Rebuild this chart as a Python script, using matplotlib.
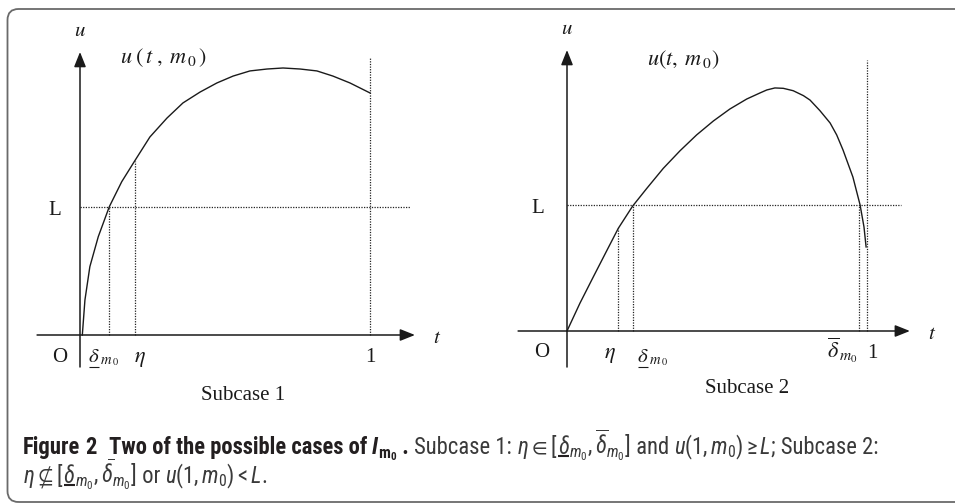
import matplotlib
matplotlib.use("Agg")
import matplotlib.pyplot as plt
from matplotlib import font_manager
from matplotlib.patches import FancyBboxPatch, Rectangle
from matplotlib.lines import Line2D
from matplotlib.transforms import IdentityTransform

W, H = 955, 504

# Subcase 1: curve u(t, m0), L taken as 1
t1 = [0.008, 0.017, 0.034, 0.063, 0.101, 0.144, 0.187, 0.241, 0.300, 0.355,
      0.414, 0.472, 0.528, 0.586, 0.645, 0.700, 0.759, 0.817, 0.872, 0.931, 1.0]
u1 = [0.0, 0.273, 0.534, 0.768, 1.002, 1.198, 1.354, 1.547, 1.695, 1.813,
      1.898, 1.969, 2.023, 2.063, 2.078, 2.086, 2.078, 2.063, 2.023, 1.969, 1.891]
L1 = 1.0
delta1 = 0.10
eta1, eta1_u = 0.19, 1.36
one1_top = 2.164

# Subcase 2
t2 = [0.0, 0.043, 0.088, 0.132, 0.171, 0.219, 0.266, 0.321, 0.377, 0.432,
      0.488, 0.543, 0.599, 0.643, 0.666, 0.693, 0.721, 0.754, 0.788, 0.81,
      0.843, 0.877, 0.899, 0.92, 0.953, 0.977, 0.99, 0.997]
u2 = [0.0, 0.220, 0.431, 0.635, 0.815, 0.992, 1.132, 1.291, 1.431, 1.556,
      1.667, 1.762, 1.841, 1.889, 1.913, 1.929, 1.926, 1.907, 1.868, 1.833,
      1.749, 1.651, 1.556, 1.437, 1.222, 1.0, 0.825, 0.667]
L2 = 1.0
eta2, eta2_u = 0.171, 0.815
delta2, deltabar2 = 0.22, 0.973
one2_top = 2.15


def pick_caption_font():
    ents = font_manager.fontManager.ttflist
    for want in ["Liberation Sans Narrow", "Roboto Condensed", "Open Sans Condensed",
                 "Noto Sans Condensed", "DejaVu Sans Condensed"]:
        if any(f.name == want for f in ents):
            return want, "normal"
    for fam in ["Noto Sans", "Open Sans", "DejaVu Sans", "Roboto"]:
        if any(f.name == fam and f.stretch == "condensed" for f in ents):
            return fam, "condensed"
    return "Roboto", "normal"


CAP, CAP_STRETCH = pick_caption_font()
tail = "" if CAP_STRETCH == "normal" else ":stretch=" + CAP_STRETCH
plt.rcParams["mathtext.rm"] = CAP + tail
plt.rcParams["mathtext.it"] = CAP + tail + ":style=italic"
plt.rcParams["mathtext.bf"] = CAP + tail + ":weight=bold"
plt.rcParams["mathtext.fallback"] = "stixsans"

fig = plt.figure(figsize=(W / 100, H / 100), dpi=100)
renderer = fig.canvas.get_renderer()

ink = "#1a1a1a"
serif = dict(family="Liberation Serif", math_fontfamily="stix", color=ink)
dots = dict(color="#222222", lw=0.9, ls=(0, (1, 1.1)))


def panel(x0, y0, sx, sy):
    # one transparent axes over the whole figure, origin at pixel (x0, y0)
    ax = fig.add_axes([0, 0, 1, 1])
    ax.set_xlim(-x0 / sx, (W - x0) / sx)
    ax.set_ylim((y0 - H) / sy, y0 / sy)
    ax.axis("off")
    return ax


def axis_arrow(ax, start, tip):
    ax.annotate("", xy=tip, xytext=start,
                arrowprops=dict(arrowstyle="-|>,head_length=0.9,head_width=0.36",
                                mutation_scale=10, lw=1.1, color=ink,
                                shrinkA=0, shrinkB=0))


def label(ax, s, xy, off, ha="center", va="baseline", size=15):
    ax.annotate(s, xy=xy, xytext=off, textcoords="offset pixels",
                ha=ha, va=va, fontsize=size, **serif)


def row(pieces, x, y, size, ul_gap=2.0, ul_lw=1.4, ul_color=ink):
    # lay text pieces left to right on one baseline (display pixels)
    for s, kw in pieces:
        kw = dict(kw)
        if "gap" in kw:
            if kw.get("mask"):
                # keep the gap clean below the baseline
                fig.add_artist(Rectangle((x + 1, y - 6), kw["gap"] - 1.5, 5,
                                         transform=IdentityTransform(),
                                         fc="white", ec="none", zorder=20))
            x += kw["gap"]
            continue
        ul = kw.pop("ul", False)
        t = fig.text(x / W, y / H, s, fontsize=size, ha="left", va="baseline", **kw)
        bb = t.get_window_extent(renderer)
        if ul:
            fig.add_artist(Line2D([bb.x0 + 0.5, bb.x1 - 0.5], [y - ul_gap] * 2,
                                  transform=IdentityTransform(), color=ul_color,
                                  lw=ul_lw, solid_capstyle="butt"))
        x += bb.width
    return x


def delta_label(ax, xy, off, size=15):
    px, py = ax.transData.transform(xy)
    row([(r"$\delta$", dict(serif, ul=True)), (r"$_{m_{\,0}}$", serif)],
        px + off[0], py + off[1], size, ul_gap=4.5, ul_lw=0.8)


# ---------------- Subcase 1 ----------------
ax1 = panel(80, 335, 290, 128)
xmin1, xtip1 = -0.148, 1.155
ytip1 = 2.211
axis_arrow(ax1, (xmin1, 0), (xtip1, 0))
axis_arrow(ax1, (0, -0.25), (0, ytip1))
ax1.plot(t1, u1, color=ink, lw=1.0)
ax1.plot([0, 1.138], [L1, L1], **dots)
ax1.plot([delta1, delta1], [0, L1], **dots)
ax1.plot([eta1, eta1], [0, eta1_u], **dots)
ax1.plot([1, 1], [0, one1_top], **dots)

label(ax1, "$u$", (0, ytip1), (0, 16))
label(ax1, r"$u\;(\,t\;,\;m_{\,0}\,)$", (0, ytip1), (40, -11), ha="left", size=16)
label(ax1, "$t$", (xtip1, 0), (22, -8))
label(ax1, "O", (0, 0), (-20, -27))
label(ax1, "L", (0, L1), (-25, -8))
delta_label(ax1, (delta1, 0), (-21, -27))
label(ax1, r"$\eta$", (eta1, 0), (5, -27), size=16)
label(ax1, "1", (1, 0), (0, -27))
label(ax1, "Subcase 1", (0, 0), (163, -65))

# ---------------- Subcase 2 ----------------
ax2 = panel(567, 331, 300, 126)
xmin2, xtip2 = -0.163, 1.143
ytip2 = 2.23
axis_arrow(ax2, (xmin2, 0), (xtip2, 0))
axis_arrow(ax2, (0, -0.286), (0, ytip2))
ax2.plot(t2, u2, color=ink, lw=1.0)
ax2.plot([0, 1.113], [L2, L2], **dots)
ax2.plot([eta2, eta2], [0, eta2_u], **dots)
ax2.plot([delta2, delta2], [0, L2], **dots)
ax2.plot([deltabar2, deltabar2], [0, L2], **dots)
ax2.plot([1, 1], [0, one2_top], **dots)

label(ax2, "$u$", (0, ytip2), (0, 16))
label(ax2, r"$u(t,\;m_{\,0})$", (0, ytip2), (80, -15), ha="left", size=16)
label(ax2, "$t$", (xtip2, 0), (22, -8))
label(ax2, "O", (0, 0), (-25, -26))
label(ax2, "L", (0, L2), (-29, -8))
label(ax2, r"$\eta$", (eta2, 0), (-8, -27), size=16)
delta_label(ax2, (delta2, 0), (4, -31))
label(ax2, r"$\overline{\delta}_{\,m_0}$", (deltabar2, 0), (-1, -27), ha="right", size=16)
label(ax2, "1", (1, 0), (5, -27))
label(ax2, "Subcase 2", (0, 0), (180, -62))

# ---------------- frame ----------------
frame = FancyBboxPatch((7.5, H - 502), 990, 493,
                       boxstyle="round,pad=0,rounding_size=11",
                       transform=IdentityTransform(), fill=False,
                       ec="#6a6a6a", lw=1.3)
fig.add_artist(frame)

# ---------------- caption ----------------
capf = dict(family=CAP, fontstretch=CAP_STRETCH)
bold = dict(capf, weight="bold", color="#231f20")
reg = dict(capf, color="#3a3a3a")
mth = dict(capf, color="#3a3a3a", math_fontfamily="custom")
mthb = dict(capf, color="#231f20", math_fontfamily="custom")

line1 = [
    ("Figure", bold),
    ("", dict(gap=5)),
    ("2", bold),
    ("", dict(gap=12, mask=True)),
    ("Two of the possible cases of ", bold),
    ("I", dict(bold, style="italic")),
    (r"$_{\mathbf{m}_{\mathbf{0}}}$", mthb),
    (" . ", bold),
    ("Subcase 1: ", reg),
    (r"$\eta \in [$", mth),
    (r"$\delta$", dict(mth, ul=True)),
    (r"$_{m_0},\overline{\delta}_{m_0}]$", mth),
    (" and ", reg),
    (r"$u(1,m_0) \geq L$", mth),
    ("; Subcase 2:", reg),
]
line2 = [
    (r"$\eta \nsubseteq [$", mth),
    (r"$\delta$", dict(mth, ul=True)),
    (r"$_{m_0},\overline{\delta}_{m_0}]$", mth),
    (" or ", reg),
    (r"$u(1,m_0) < L$", mth),
    (".", reg),
]

# fit the first line to its width in the reference, then draw both lines
probe = plt.figure(figsize=(W / 100, H / 100), dpi=100)
tw, gaps = 0, 0
for s, kw in line1:
    if "gap" in kw:
        gaps += kw["gap"]
        continue
    kw = {k: v for k, v in kw.items() if k != "ul"}
    tw += probe.text(0, 0, s, fontsize=15, **kw).get_window_extent(
        probe.canvas.get_renderer()).width
plt.close(probe)
size = 15 * (880 - 23 - gaps) / tw

row(line1, 23, H - 454, size, ul_gap=2.2, ul_lw=1.5, ul_color="#231f20")
row(line2, 23, H - 483, size, ul_gap=2.2, ul_lw=1.5, ul_color="#231f20")

fig.savefig("out.png", dpi=100)
